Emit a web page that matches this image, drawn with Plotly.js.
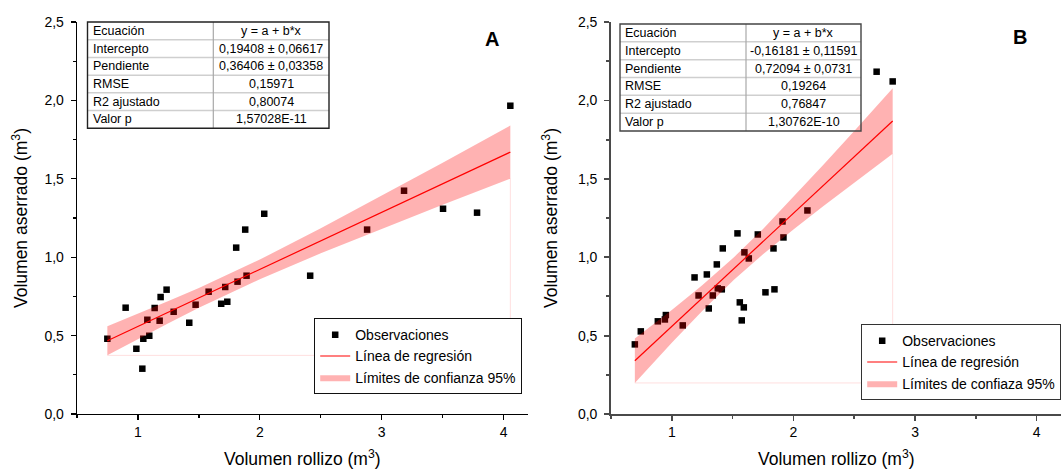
<!DOCTYPE html>
<html>
<head>
<meta charset="utf-8">
<script src="https://cdn.plot.ly/plotly-3.0.1.min.js"></script>
<style>
  html, body { margin: 0; padding: 0; background: #fff; }
  #chart { width: 1061px; height: 470px; }
</style>
</head>
<body>
<div id="chart"></div>
<script>
// ---- Panel A: observations (volumen rollizo vs volumen aserrado) ----
const obsA_x = [0.749, 0.899, 0.987, 1.036, 1.044, 1.093, 1.077, 1.137, 1.178, 1.186,
                1.235, 1.293, 1.421, 1.473, 1.580, 1.683, 1.733, 1.716, 1.806, 1.817,
                1.880, 1.891, 2.036, 2.413, 2.880, 3.183, 3.503, 3.782, 4.055];
const obsA_y = [0.480, 0.678, 0.416, 0.289, 0.480, 0.499, 0.601, 0.676, 0.595, 0.746,
                0.793, 0.652, 0.582, 0.697, 0.780, 0.703, 0.716, 0.810, 1.061, 0.844,
                1.176, 0.882, 1.277, 0.882, 1.176, 1.424, 1.309, 1.284, 1.966];

// Panel A: 95% confidence limits of the fitted line
const bandA_x     = [0.749, 1.0, 1.25, 1.5, 1.75, 2.0, 2.5, 3.0, 3.5, 4.055];
const bandA_upper = [0.560, 0.639, 0.720, 0.804, 0.892, 0.985, 1.184, 1.391, 1.603, 1.840];
const bandA_lower = [0.374, 0.478, 0.579, 0.677, 0.770, 0.859, 1.025, 1.182, 1.334, 1.501];

// Panel A: fitted coefficients (y = a + b*x)
const interceptA = 0.19408;
const slopeA = 0.36406;

// ---- Panel B ----
const obsB_x = [0.696, 0.745, 0.885, 0.943, 0.951, 1.090, 1.187, 1.220, 1.288, 1.304,
                1.337, 1.370, 1.378, 1.411, 1.419, 1.540, 1.559, 1.575, 1.592, 1.597,
                1.633, 1.707, 1.770, 1.836, 1.844, 1.910, 1.918, 2.115, 2.684, 2.816];
const obsB_y = [0.444, 0.527, 0.591, 0.603, 0.631, 0.565, 0.871, 0.756, 0.890, 0.673,
                0.756, 0.954, 0.801, 0.795, 1.056, 1.152, 0.712, 0.597, 0.680, 1.031,
                0.992, 1.145, 0.776, 1.056, 0.795, 1.228, 1.126, 1.298, 2.183, 2.121];

const bandB_x     = [0.696, 1.0, 1.25, 1.511, 1.75, 2.0, 2.25, 2.5, 2.816];
const bandB_upper = [0.482, 0.664, 0.821, 1.000, 1.180, 1.383, 1.592, 1.805, 2.077];
const bandB_lower = [0.198, 0.454, 0.657, 0.856, 1.019, 1.177, 1.328, 1.476, 1.660];

const interceptB = -0.16181;
const slopeB = 0.72094;

// ---- Statistics tables ----
const tableRowLabels = ['Ecuación', 'Intercepto', 'Pendiente', 'RMSE', 'R2 ajustado', 'Valor p'];
const tableA_values = ['y = a + b*x', '0,19408 ± 0,06617', '0,36406 ± 0,03358', '0,15971', '0,80074', '1,57028E-11'];
const tableB_values = ['y = a + b*x', '-0,16181 ± 0,11591', '0,72094 ± 0,0731', '0,19264', '0,76847', '1,30762E-10'];

// ---- Text ----
const legendNamesA = ['Observaciones', 'Línea de regresión', 'Límites de confianza 95%'];
const legendNamesB = ['Observaciones', 'Línea de regresión', 'Límites de confiaza 95%'];
const xTitle = 'Volumen rollizo (m<sup>3</sup>)';
const yTitle = 'Volumen aserrado (m<sup>3</sup>)';
const panelLabels = ['A', 'B'];

// ---------------------------------------------------------------
const W = 1061, H = 470;
const FONT = 'Liberation Sans, Arial, sans-serif';
const px = v => v / W;          // pixel -> paper (x)
const py = v => 1 - v / H;      // pixel -> paper (y)

function panelTraces(xs, ys, bx, bu, bl, a, b, names, xa, ya, leg) {
  const xMin = Math.min(...xs), xMax = Math.max(...xs);
  const polyX = bx.concat(bx.slice().reverse());
  const polyY = bu.concat(bl.slice().reverse());
  const n = bx.length;
  return [
    { type: 'scatter', mode: 'markers', x: xs, y: ys, name: names[0],
      xaxis: xa, yaxis: ya, legend: leg, legendrank: 1,
      marker: { symbol: 'square', size: 6.5, color: '#000' }, hoverinfo: 'x+y' },
    // faint outline left by the band's base
    { type: 'scatter', mode: 'lines', x: [bx[0], bx[n - 1], bx[n - 1]], y: [bl[0], bl[0], bl[n - 1]],
      xaxis: xa, yaxis: ya, showlegend: false, hoverinfo: 'skip',
      line: { color: 'rgba(255,0,0,0.13)', width: 1 } },
    { type: 'scatter', mode: 'lines', x: polyX, y: polyY, name: names[2],
      xaxis: xa, yaxis: ya, legend: leg, legendrank: 3,
      fill: 'toself', fillcolor: 'rgba(255,0,0,0.30)', line: { width: 0, color: 'rgba(255,0,0,0.3)' },
      hoverinfo: 'skip' },
    { type: 'scatter', mode: 'lines', x: [xMin, xMax], y: [a + b * xMin, a + b * xMax], name: names[1],
      xaxis: xa, yaxis: ya, legend: leg, legendrank: 2,
      line: { color: '#ff0000', width: 1.2 } }
  ];
}

const traces = []
  .concat(panelTraces(obsA_x, obsA_y, bandA_x, bandA_upper, bandA_lower, interceptA, slopeA, legendNamesA, 'x', 'y', 'legend'))
  .concat(panelTraces(obsB_x, obsB_y, bandB_x, bandB_upper, bandB_lower, interceptB, slopeB, legendNamesB, 'x2', 'y2', 'legend2'));

function xAxis(domain, anchor, color, width) {
  return {
    domain: domain, anchor: anchor, range: [0.5, 4.2], tick0: 0, dtick: 1,
    showline: true, linecolor: color, linewidth: width, mirror: false,
    ticks: 'outside', ticklen: 5, tickwidth: width, tickcolor: color,
    showgrid: false, zeroline: false,
    tickfont: { family: FONT, size: 14, color: '#000' },
    minor: { ticks: 'outside', ticklen: 3, tickwidth: width, tickcolor: color, dtick: 0.5, tick0: 0, showgrid: false },
    fixedrange: true
  };
}
function yAxis(anchor, color, width) {
  return {
    domain: [56 / H, 448 / H], anchor: anchor, range: [0, 2.5], tick0: 0, dtick: 0.5, tickformat: '.1f',
    showline: true, linecolor: color, linewidth: width,
    ticks: 'outside', ticklen: 5, tickwidth: width, tickcolor: color,
    showgrid: false, zeroline: false,
    tickfont: { family: FONT, size: 14, color: '#000' },
    ticklabelstandoff: 4,
    minor: { ticks: 'outside', ticklen: 3, tickwidth: width, tickcolor: color, dtick: 0.25, tick0: 0, showgrid: false },
    fixedrange: true
  };
}

const shapes = [];
const annotations = [];

function drawTable(left, top, right, bottom, split, labels, values, outer) {
  const rows = labels.length;
  const rh = (bottom - top) / rows;
  for (let i = 1; i < rows; i++) {
    const yy = top + rh * i;
    shapes.push({ type: 'line', xref: 'paper', yref: 'paper', x0: px(left), x1: px(right), y0: py(yy), y1: py(yy),
                  line: { color: '#cfcfcf', width: 1.5 } });
  }
  shapes.push({ type: 'line', xref: 'paper', yref: 'paper', x0: px(split), x1: px(split), y0: py(top), y1: py(bottom),
                line: { color: '#a8a8a8', width: 1.2 } });
  shapes.push({ type: 'rect', xref: 'paper', yref: 'paper', x0: px(left), x1: px(right), y0: py(bottom), y1: py(top),
                line: { color: outer, width: 1.4 } });
  for (let i = 0; i < rows; i++) {
    const yc = top + rh * (i + 0.5);
    annotations.push({ xref: 'paper', yref: 'paper', x: px(left + 3), y: py(yc), xanchor: 'left', yanchor: 'middle',
                       text: labels[i], showarrow: false, font: { family: FONT, size: 12.5, color: '#000' } });
    annotations.push({ xref: 'paper', yref: 'paper', x: px((split + right) / 2), y: py(yc), xanchor: 'center', yanchor: 'middle',
                       text: values[i], showarrow: false, font: { family: FONT, size: 12.5, color: '#000' } });
  }
}

drawTable(87.5, 22, 329, 128.3, 213.3, tableRowLabels, tableA_values, '#222');
drawTable(620, 24, 861, 131, 746, tableRowLabels, tableB_values, '#444');

// axis titles and panel letters
[[302.5, 20], [836, 550]].forEach(([cx, ty]) => {
  annotations.push({ xref: 'paper', yref: 'paper', x: px(cx), y: py(458), xanchor: 'center', yanchor: 'middle',
                     text: xTitle, showarrow: false, font: { family: FONT, size: 17.5, color: '#000' } });
  annotations.push({ xref: 'paper', yref: 'paper', x: px(ty), y: py(218), xanchor: 'center', yanchor: 'middle',
                     text: yTitle, textangle: -90, showarrow: false, font: { family: FONT, size: 17.5, color: '#000' } });
});
annotations.push({ xref: 'paper', yref: 'paper', x: px(491.5), y: py(38.5), xanchor: 'center', yanchor: 'middle',
                   text: '<b>' + panelLabels[0] + '</b>', showarrow: false, font: { family: FONT, size: 20, color: '#000' } });
annotations.push({ xref: 'paper', yref: 'paper', x: px(1019.5), y: py(36.5), xanchor: 'center', yanchor: 'middle',
                   text: '<b>' + panelLabels[1] + '</b>', showarrow: false, font: { family: FONT, size: 20, color: '#000' } });

const legendStyle = (x, y, border) => ({
  x: px(x), y: py(y), xanchor: 'left', yanchor: 'top', xref: 'paper', yref: 'paper',
  bgcolor: '#fff', bordercolor: border, borderwidth: 1.2,
  font: { family: FONT, size: 14, color: '#000' }, tracegroupgap: 0, itemclick: false, itemdoubleclick: false
});

const layout = {
  width: W, height: H,
  margin: { l: 0, r: 0, t: 0, b: 0 },
  paper_bgcolor: '#fff', plot_bgcolor: 'rgba(0,0,0,0)',
  separators: ',.',
  font: { family: FONT, size: 14, color: '#000' },
  showlegend: true,
  xaxis: xAxis([77 / W, 528 / W], 'y', '#000', 1.3),
  yaxis: yAxis('x', '#000', 1.3),
  xaxis2: xAxis([611 / W, 1], 'y2', '#4a4a4a', 1.6),
  yaxis2: yAxis('x2', '#4a4a4a', 1.8),
  legend: legendStyle(314, 318, '#111'),
  legend2: legendStyle(861, 324, '#333'),
  shapes: shapes,
  annotations: annotations
};

Plotly.newPlot('chart', traces, layout, { displayModeBar: false, staticPlot: true });
</script>
</body>
</html>
